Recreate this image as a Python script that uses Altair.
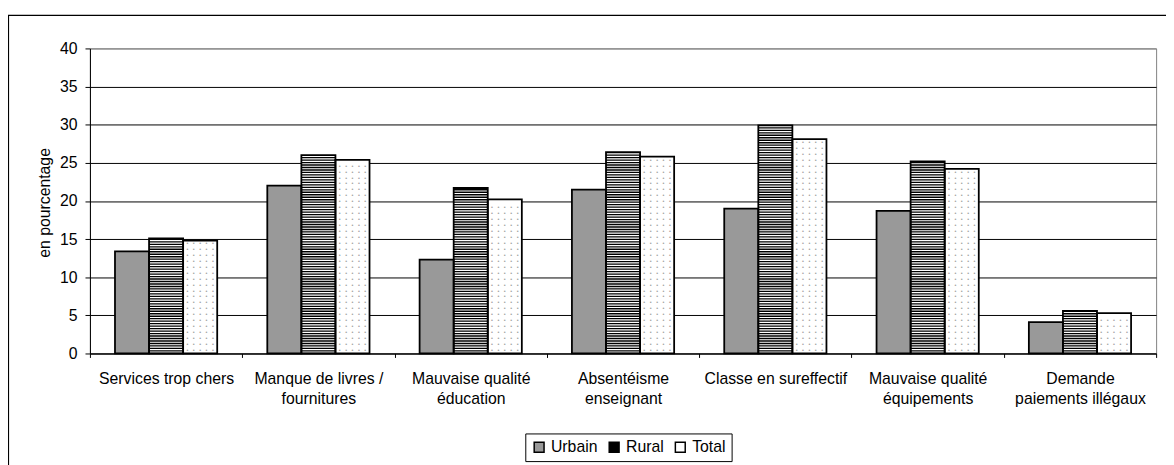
import altair as alt
import pandas as pd
import numpy as np

categories = [
    "Services trop chers",
    "Manque de livres /\nfournitures",
    "Mauvaise qualité\néducation",
    "Absentéisme\nenseignant",
    "Classe en sureffectif",
    "Mauvaise qualité\néquipements",
    "Demande\npaiements illégaux",
]
series = ["Urbain", "Rural", "Total"]
urbain = [13.4, 22.0, 12.3, 21.5, 19.0, 18.7, 4.1]
rural = [15.1, 26.0, 21.7, 26.4, 29.9, 25.2, 5.6]
total = [14.8, 25.4, 20.2, 25.8, 28.1, 24.2, 5.3]
y_ticks = [0, 5, 10, 15, 20, 25, 30, 35, 40]

rows = []
for i, c in enumerate(categories):
    for s, vals in zip(series, [urbain, rural, total]):
        rows.append({"Cat": c, "Serie": s, "Valeur": vals[i]})
df = pd.DataFrame(rows)

# decorative hatch (Rural) and dot (Total) patterns, following each bar's height
stripe_rows = []
for c, v in zip(categories, rural):
    for y0 in np.arange(0.1, v - 0.2, 0.325):
        stripe_rows.append({"Cat": c, "Serie": "Rural", "y0": float(y0), "y1": float(y0) + 0.15})
stripes = pd.DataFrame(stripe_rows)

GAP = "\u00a0\u00a0\u00a0"
DOT_ROW = GAP.join(["•"] * 5)
dot_rows = []
for c, v in zip(categories, total):
    for y0 in np.arange(0.45, v - 0.3, 0.78):
        dot_rows.append({"Cat": c, "Serie": "Total", "y": float(y0), "t": DOT_ROW})
dots = pd.DataFrame(dot_rows)

FONT = "Liberation Sans"

x_enc = alt.X(
    "Cat:N",
    sort=categories,
    scale=alt.Scale(domain=categories, paddingInner=0, paddingOuter=0),
    axis=alt.Axis(
        title=None,
        labelAngle=0,
        labelExpr="split(datum.label, '\\n')",
        labelFont=FONT,
        labelFontSize=16,
        labelLineHeight=21,
        labelColor="black",
        labelPadding=13,
        tickBand="extent",
        tickSize=4,
        tickColor="black",
        domainColor="black",
        grid=False,
        labelLimit=300,
    ),
)
xo_enc = alt.XOffset(
    "Serie:N",
    sort=series,
    scale=alt.Scale(domain=series, paddingInner=0, paddingOuter=0.735),
)
y_scale = alt.Scale(domain=[0, 40], nice=False, zero=True)
y_axis = alt.Axis(
    title="en pourcentage",
    titleFont=FONT,
    titleFontSize=16,
    titleFontWeight="normal",
    titleColor="black",
    titleX=-46,
    titleY=156,
    titleAngle=-90,
    titleBaseline="middle",
    titleAlign="center",
    values=y_ticks,
    labelOverlap=False,
    labelFont=FONT,
    labelFontSize=16,
    labelColor="black",
    labelPadding=8,
    tickSize=5,
    tickColor="black",
    domainColor="black",
    grid=True,
    gridColor={"condition": {"test": "datum.value == 40", "value": "#808080"}, "value": "black"},
    gridWidth=1,
)

frame = alt.Chart(alt.Data(values=[{"a": 1}])).mark_rect(
    fillOpacity=0, stroke="black", strokeWidth=1.2
).encode(
    x=alt.value(-82.5), x2=alt.value(1300), y=alt.value(-33.5), y2=alt.value(700)
)

bars = alt.Chart(df).mark_bar(strokeWidth=0).encode(
    x=x_enc,
    xOffset=xo_enc,
    y=alt.Y("Valeur:Q", scale=y_scale, axis=y_axis),
    color=alt.Color(
        "Serie:N",
        sort=series,
        scale=alt.Scale(domain=series, range=["#999999", "#000000", "#ffffff"]),
        legend=alt.Legend(
            title=None,
            orient="none",
            legendX=441,
            legendY=390,
            direction="horizontal",
            strokeColor="black",
            padding=6,
            symbolType="square",
            symbolSize=100,
            symbolStrokeColor="black",
            symbolStrokeWidth=1.5,
            labelFont=FONT,
            labelFontSize=16,
            labelColor="black",
            labelOffset=4,
            columnPadding=8,
        ),
    ),
)

stripe_layer = alt.Chart(stripes).mark_bar(color="white", strokeWidth=0).encode(
    x=x_enc,
    xOffset=xo_enc,
    y=alt.Y("y0:Q", scale=y_scale, axis=y_axis),
    y2="y1:Q",
)

dot_layer = alt.Chart(dots).mark_text(
    font=FONT, fontSize=5.5, color="#a0a0a0", baseline="middle", align="center"
).encode(
    x=x_enc,
    xOffset=xo_enc,
    y=alt.Y("y:Q", scale=y_scale, axis=y_axis),
    text="t:N",
)

outline = alt.Chart(df).mark_bar(fillOpacity=0, stroke="black", strokeWidth=1.8).encode(
    x=x_enc,
    xOffset=xo_enc,
    y=alt.Y("Valeur:Q", scale=y_scale, axis=y_axis),
)

chart = alt.layer(frame, bars, stripe_layer, dot_layer, outline).properties(
    width=1080,
    height=309,
    autosize=alt.AutoSizeParams(type="none"),
    padding={"left": 83, "top": 38, "right": 10, "bottom": 110},
    background="white",
).configure_view(stroke="#808080", strokeWidth=1)

chart.save("out.html", embed_options={"renderer": "svg", "actions": False})
